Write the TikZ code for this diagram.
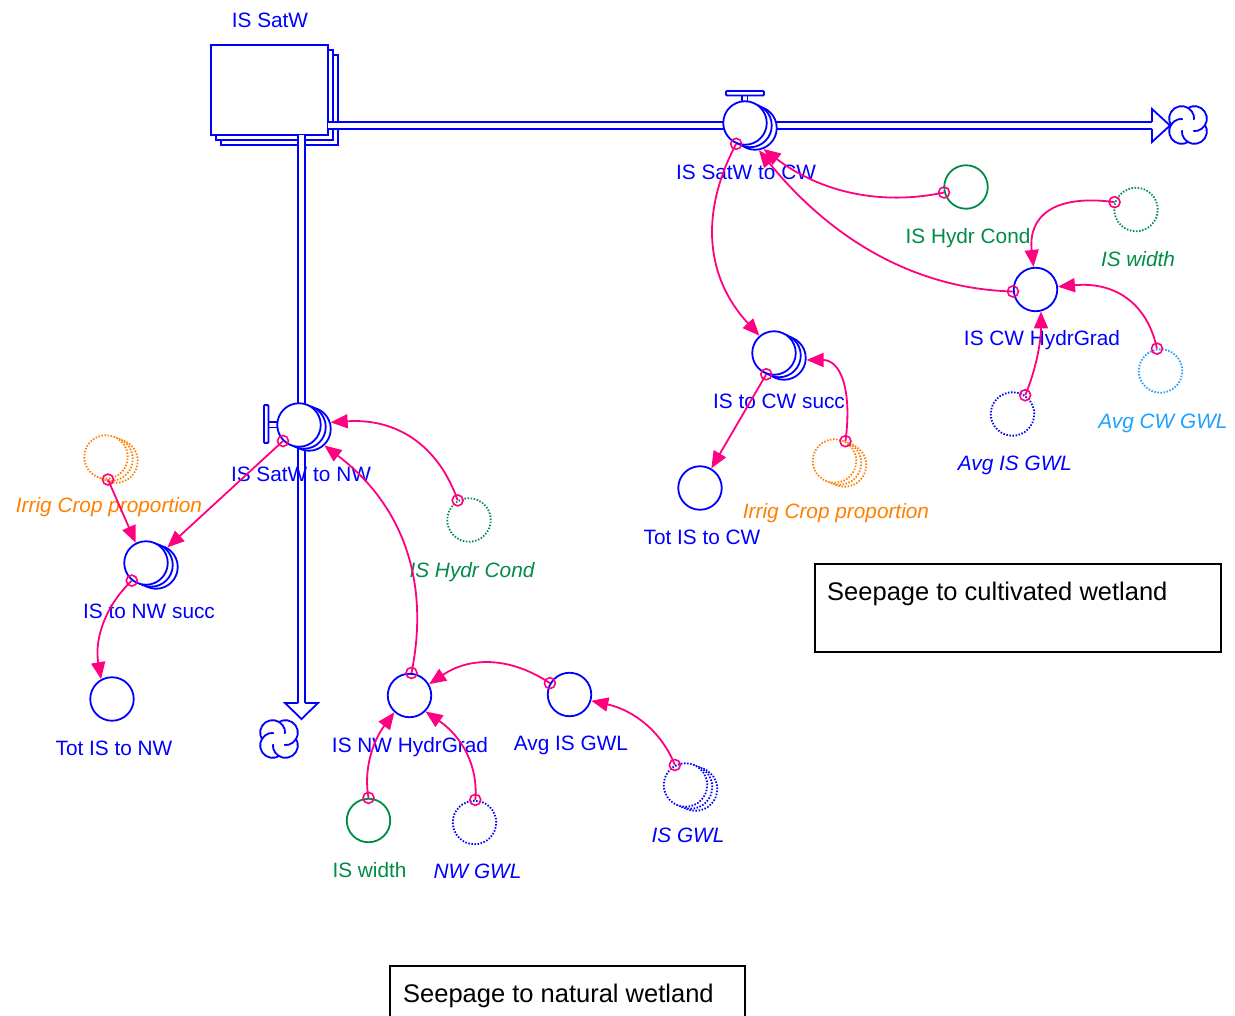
\documentclass[tikz,border=0pt]{standalone}
\usepackage{fontspec}
\setmainfont{Liberation Sans}
\usetikzlibrary{arrows.meta,calc}
\definecolor{vblue}{RGB}{0,0,255}
\definecolor{vgreen}{RGB}{0,140,70}
\definecolor{vorange}{RGB}{255,128,0}
\definecolor{vlblue}{RGB}{30,160,255}
\definecolor{vmag}{RGB}{255,0,128}
\newcommand\qlink[3]{\draw[link] (#1) node[ring]{} .. controls ($(#1)!0.667!(#2)$) and ($(#3)!0.667!(#2)$) .. (#3);}
\tikzset{
 aux/.style={circle,draw=vblue,line width=1.8pt,minimum size=43.5pt,inner sep=0pt,fill=white},
 dots/.style={dash pattern=on 1.5pt off 1.6pt},
 lbl/.style={font=\fontsize{20.8}{24}\selectfont,text=vblue,inner sep=0pt,text height=15pt,text depth=0pt},
 ilbl/.style={lbl,font=\fontsize{20.8}{24}\selectfont\itshape},
 link/.style={draw=vmag,line width=1.8pt,-{Triangle[length=17pt,width=14pt]}},
 ring/.style={circle,draw=vmag,line width=1.6pt,minimum size=11pt,inner sep=0pt},
 pipe/.style={draw=vblue,line width=1.8pt},
 pipe2/.style={draw=vblue,double=white,double distance=5.2pt,line width=1.8pt},
 stockbox/.style={draw=vblue,line width=2pt,fill=white,minimum width=117pt,minimum height=90pt,inner sep=0pt},
 note/.style={font=\fontsize{25.5}{30}\selectfont,inner sep=0pt,text height=18pt,text depth=0pt,anchor=west},
 vcloud/.pic={
  \foreach \t in {45,135,225,315}{
   \draw[vblue,line width=1.8pt] (\t:9) ++(\t-80:12.5) arc[start angle=\t-80,end angle=\t+140,radius=12.5];
  }
 }
}
\begin{document}
\begin{tikzpicture}[x=1pt,y=-1pt]
\useasboundingbox (0,0) rectangle (1235,1016);
\clip (0,0) rectangle (1235,1016);

% stock
\node[stockbox] (stock3) at (279.5,100) {};
\node[stockbox] (stock2) at (274.5,95) {};
\node[stockbox] (stock) at (269.5,90) {};
\node[lbl] (lstock) at (270,20) {IS SatW};

% pipes
\coordinate (hstart) at (328,125.5);
\coordinate (hend) at (1152,125.5);
\coordinate (vstart) at (301.5,135);
\coordinate (vend) at (301.5,703);
\draw[pipe2] (hstart) -- (hend);
\draw[pipe2] (vstart) -- (vend);
\fill[white] (1152,109)--(1170,125.5)--(1152,142)--cycle;
\draw[pipe,line join=miter] (1152,122)--(1152,109)--(1170,125.5)--(1152,142)--(1152,129);
\fill[white] (285,703)--(301.5,719)--(318,703)--cycle;
\draw[pipe,line join=miter] (298,703)--(285,703)--(301.5,719)--(318,703)--(305,703);
\pic at (1188,125) {vcloud};
\pic at (279,739) {vcloud};

% valves
\node[aux] (v1c) at (755,128) {};
\node[aux] (v1b) at (750,125.5) {};
\node[aux] (v1) at (745,123) {};
\draw[pipe] (742,95)--(742,101.5) (747.5,95)--(747.5,101.5);
\draw[pipe,fill=white,rounded corners=1pt] (726,91) rectangle (764,95.5);
\node[lbl] (lv1) at (746,172) {IS SatW to CW};

\node[aux] (v2c) at (309,429) {};
\node[aux] (v2b) at (304,427) {};
\node[aux] (v2) at (299,425) {};
\draw[pipe] (268,422)--(277.5,422) (268,427.5)--(277.5,427.5);
\draw[pipe,fill=white,rounded corners=1pt] (264,405) rectangle (268.5,443);
\node[lbl] (lv2) at (301,474) {IS SatW to NW};

% auxiliaries right
\node[aux,draw=vgreen] (hc1) at (966,187) {};
\node[lbl,text=vgreen] (lhc1) at (968,236) {IS Hydr Cond};
\node[aux,draw=vgreen,dots] (isw1) at (1136,209.5) {};
\node[ilbl,text=vgreen] (lisw1) at (1138,259) {IS width};
\node[aux] (hg1) at (1035.5,289.5) {};
\node[lbl] (lhg1) at (1042,338) {IS CW HydrGrad};
\node[aux,draw=vlblue,dots] (acw) at (1160.5,371) {};
\node[ilbl,text=vlblue] (lacw) at (1163,421) {Avg CW GWL};
\node[aux,dots] (aig1) at (1012.5,414) {};
\node[ilbl] (laig1) at (1015,463) {Avg IS GWL};
\node[aux] (cwsc) at (784,358) {};
\node[aux] (cwsb) at (779,355.5) {};
\node[aux] (cws) at (774,353) {};
\node[lbl] (lcws) at (779,401) {IS to CW succ};
\node[aux] (tot1) at (700,488) {};
\node[lbl] (ltot1) at (702,537) {Tot IS to CW};
\node[aux,draw=vorange,dots] (icp1c) at (844.5,465) {};
\node[aux,draw=vorange,dots] (icp1b) at (839.5,463) {};
\node[aux,draw=vorange,dots] (icp1) at (834.5,461) {};
\node[ilbl,text=vorange] (licp1) at (836,511) {Irrig Crop proportion};

% auxiliaries left
\node[aux,draw=vorange,dots] (icp2c) at (116,461) {};
\node[aux,draw=vorange,dots] (icp2b) at (111,459) {};
\node[aux,draw=vorange,dots] (icp2) at (106,457) {};
\node[ilbl,text=vorange] (licp2) at (109,505) {Irrig Crop proportion};
\node[aux,draw=vgreen,dots] (ihc2) at (469,520) {};
\node[ilbl,text=vgreen] (lihc2) at (472,570) {IS Hydr Cond};
\node[aux] (nwsc) at (156,567) {};
\node[aux] (nwsb) at (151,565) {};
\node[aux] (nws) at (146,563) {};
\node[lbl] (lnws) at (149,611) {IS to NW succ};
\node[aux] (tot2) at (112,699) {};
\node[lbl] (ltot2) at (114,748) {Tot IS to NW};
\node[aux] (hg2) at (409.5,695.5) {};
\node[lbl] (lhg2) at (410,745) {IS NW HydrGrad};
\node[aux] (aig2) at (569.5,694.5) {};
\node[lbl] (laig2) at (571,743) {Avg IS GWL};
\node[aux,dots] (igwlc) at (695.5,789) {};
\node[aux,dots] (igwlb) at (690.5,787) {};
\node[aux,dots] (igwl) at (685.5,785) {};
\node[ilbl] (ligwl) at (688,835) {IS GWL};
\node[aux,draw=vgreen] (isw2) at (368.5,820.5) {};
\node[lbl,text=vgreen] (lisw2) at (369.5,870) {IS width};
\node[aux,dots] (nwg) at (474.5,822.5) {};
\node[ilbl] (lnwg) at (477.5,871) {NW GWL};

% notes
\draw[line width=1.5pt] (815,564) rectangle (1221,652);
\node[note] (n1) at (827,591) {Seepage to cultivated wetland};
\draw[line width=1.5pt] (390,1020) -- (390,966) -- (745,966) -- (745,1020);
\node[note] (n2) at (403,993) {Seepage to natural wetland};

% links
\qlink{hc1.194}{848,213}{v1c.-68}
\qlink{hg1.185}{871,288}{v1c.-80}
\qlink{v1.-113}{680,250}{cws.130}
\qlink{isw1.161}{1025,190}{hg1.95}
\qlink{acw.99}{1142,279}{hg1.7}
\qlink{aig1.56}{1041,358}{hg1.-76}
\qlink{icp1.61}{856,360}{cwsc.-5}
\draw[link] (cws.-110) node[ring]{} -- (tot1.60);
\draw[link] (v2.-135) node[ring]{} -- (nwsc.60);
\draw[link] (icp2.-85) node[ring]{} -- (nws.117);
\qlink{nws.-129}{91,620}{tot2.119}
\qlink{ihc2.120}{428,416}{v2c.17}
\qlink{hg2.85}{440,533}{v2c.-47}
\qlink{aig2.150}{490,643}{hg2.30}
\qlink{igwl.118}{655,715}{aig2.-16}
\qlink{isw2.90}{361,757}{hg2.-132}
\qlink{nwg.88}{480,749}{hg2.-45}
\end{tikzpicture}
\end{document}
